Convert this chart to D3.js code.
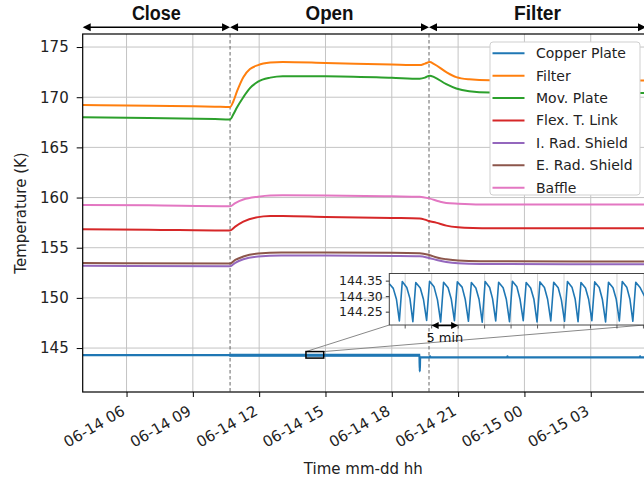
<!DOCTYPE html>
<html>
<head>
<meta charset="utf-8">
<script src="https://cdn.jsdelivr.net/npm/d3@7/dist/d3.min.js"></script>
<style>
  body { margin: 0; background: #fff; }
  svg { display: block; font-family: "DejaVu Sans", sans-serif; }
</style>
</head>
<body>
<svg id="chart" width="644" height="480"></svg>
<script>
const parseTime = d3.timeParse("%m-%d %H:%M");

// phases shown above the plot
const phaseNames = ["Close", "Open", "Filter"];
const phaseBounds = ["06-14 04:01", "06-14 10:41", "06-14 19:41", "06-15 05:30"];

const xTickTimes = ["06-14 06:00", "06-14 09:00", "06-14 12:00", "06-14 15:00",
                    "06-14 18:00", "06-14 21:00", "06-15 00:00", "06-15 03:00"];
const yTicks = [145, 150, 155, 160, 165, 170, 175];

const seriesNames = ["Copper Plate", "Filter", "Mov. Plate", "Flex. T. Link",
                     "I. Rad. Shield", "E. Rad. Shield", "Baffle"];
const seriesColors = ["#1f77b4", "#ff7f0e", "#2ca02c", "#d62728", "#9467bd", "#8c564b", "#e377c2"];

const copperPlate = [
  ["06-14 04:01", 144.30], ["06-14 10:41", 144.30], ["06-14 10:42", 144.29], ["06-14 19:14", 144.29],
  ["06-14 19:15", 144.30], ["06-14 19:16", 142.68], ["06-14 19:17", 144.08], ["06-14 19:43", 144.08],
  ["06-14 19:44", 144.17], ["06-14 19:45", 144.08], ["06-14 23:13", 144.08], ["06-14 23:14", 144.17],
  ["06-14 23:15", 144.08], ["06-15 05:13", 144.08], ["06-15 05:14", 144.17], ["06-15 05:15", 144.08],
  ["06-15 05:30", 144.08]
];
// spread of the copper plate oscillation during the open phase
const copperBand = [["06-14 10:41", 144.22, 144.35], ["06-14 19:15", 144.22, 144.35]];

const filterTemps = [
  ["06-14 04:01", 169.22], ["06-14 06:00", 169.18], ["06-14 08:00", 169.12], ["06-14 10:00", 169.06],
  ["06-14 10:41", 169.03], ["06-14 10:50", 169.6], ["06-14 11:00", 170.6], ["06-14 11:17", 172.0],
  ["06-14 11:35", 172.8], ["06-14 11:57", 173.2], ["06-14 12:30", 173.45], ["06-14 13:04", 173.52],
  ["06-14 15:00", 173.42], ["06-14 18:00", 173.25], ["06-14 19:16", 173.2], ["06-14 19:30", 173.35],
  ["06-14 19:43", 173.5], ["06-14 19:55", 173.3], ["06-14 20:28", 172.5], ["06-14 20:55", 172.0],
  ["06-14 21:30", 171.78], ["06-14 22:26", 171.68], ["06-15 05:30", 171.66]
];
const movPlateTemps = [
  ["06-14 04:01", 168.0], ["06-14 07:00", 167.92], ["06-14 10:00", 167.82], ["06-14 10:41", 167.79],
  ["06-14 10:50", 168.3], ["06-14 11:00", 169.0], ["06-14 11:17", 170.0], ["06-14 11:35", 170.9],
  ["06-14 11:57", 171.55], ["06-14 12:30", 171.95], ["06-14 13:04", 172.1], ["06-14 15:00", 172.1],
  ["06-14 18:00", 171.94], ["06-14 19:16", 171.85], ["06-14 19:30", 171.95], ["06-14 19:43", 172.15],
  ["06-14 19:55", 172.0], ["06-14 20:28", 171.3], ["06-14 20:55", 170.87], ["06-14 21:30", 170.6],
  ["06-14 22:26", 170.47], ["06-15 05:30", 170.42]
];
const flexLinkTemps = [
  ["06-14 04:01", 156.85], ["06-14 07:00", 156.8], ["06-14 10:41", 156.72], ["06-14 10:55", 157.1],
  ["06-14 11:17", 157.6], ["06-14 11:57", 158.05], ["06-14 12:30", 158.15], ["06-14 13:04", 158.17],
  ["06-14 15:00", 158.07], ["06-14 18:00", 157.97], ["06-14 19:16", 157.92], ["06-14 19:30", 157.8],
  ["06-14 19:41", 157.66], ["06-14 20:00", 157.5], ["06-14 20:28", 157.2], ["06-14 21:00", 157.03],
  ["06-14 21:40", 156.96], ["06-14 22:30", 156.94], ["06-15 05:30", 156.94]
];
const innerShieldTemps = [
  ["06-14 04:01", 153.2], ["06-14 10:41", 153.15], ["06-14 10:55", 153.5], ["06-14 11:17", 153.85],
  ["06-14 11:57", 154.12], ["06-14 13:00", 154.22], ["06-14 15:00", 154.22], ["06-14 18:00", 154.18],
  ["06-14 19:16", 154.15], ["06-14 19:41", 153.98], ["06-14 20:05", 153.75], ["06-14 20:28", 153.58],
  ["06-14 21:00", 153.45], ["06-14 22:00", 153.38], ["06-15 05:30", 153.35]
];
const outerShieldTemps = [
  ["06-14 04:01", 153.48], ["06-14 10:41", 153.42], ["06-14 10:55", 153.78], ["06-14 11:17", 154.12],
  ["06-14 11:57", 154.42], ["06-14 13:00", 154.52], ["06-14 15:00", 154.52], ["06-14 18:00", 154.5],
  ["06-14 19:16", 154.45], ["06-14 19:41", 154.28], ["06-14 20:05", 154.0], ["06-14 20:28", 153.85],
  ["06-14 21:00", 153.72], ["06-14 22:00", 153.66], ["06-15 05:30", 153.62]
];
const baffleTemps = [
  ["06-14 04:01", 159.25], ["06-14 07:00", 159.22], ["06-14 10:41", 159.14], ["06-14 10:55", 159.45],
  ["06-14 11:17", 159.8], ["06-14 11:57", 160.08], ["06-14 12:30", 160.2], ["06-14 13:04", 160.22],
  ["06-14 15:00", 160.2], ["06-14 18:00", 160.12], ["06-14 19:16", 160.08], ["06-14 19:41", 159.92],
  ["06-14 20:10", 159.6], ["06-14 20:28", 159.46], ["06-14 21:00", 159.38], ["06-14 22:00", 159.3],
  ["06-15 05:30", 159.3]
];
const allSeries = [copperPlate, filterTemps, movPlateTemps, flexLinkTemps,
                   innerShieldTemps, outerShieldTemps, baffleTemps];

// inset: copper plate, minutes after 06-14 14:07
const insetStart = "06-14 14:07";
const insetMinutes = [
  0, 0.75, 1.35, 1.9, 2.45, 3.3, 3.9, 4.45, 5.0, 5.85, 6.45, 7.05, 7.6, 8.45, 9.1, 9.7,
  10.25, 11.1, 11.7, 12.3, 12.85, 13.75, 14.35, 14.95, 15.5, 16.35, 16.95, 17.55,
  18.1, 18.95, 19.5, 20.1, 20.65, 21.5, 22.1, 22.7, 23.25, 24.1, 24.7, 25.3,
  25.85, 26.7, 27.3, 27.9, 28.45, 29.3, 29.9, 30.5, 31.05, 31.9, 32.5, 33.1,
  33.65, 34.5, 35.1, 35.65, 36.2, 37.05, 37.65, 38.25, 38.8, 39.65, 40.25, 40.85,
  41.4, 42.25, 42.85, 43.45, 44.0, 44.85, 45.45, 46.0, 46.55, 47.4, 48.2
];
const insetTemps = [
  144.34, 144.325, 144.29, 144.22, 144.347, 144.328, 144.292, 144.218, 144.344, 144.326, 144.29, 144.222,
  144.348, 144.33, 144.288, 144.217, 144.345, 144.327, 144.291, 144.221, 144.346, 144.329, 144.289, 144.219,
  144.344, 144.326, 144.29, 144.216, 144.347, 144.328, 144.292, 144.22, 144.345, 144.327, 144.29, 144.218,
  144.348, 144.33, 144.289, 144.221, 144.344, 144.326, 144.291, 144.217, 144.346, 144.328, 144.29, 144.22,
  144.345, 144.327, 144.288, 144.219, 144.347, 144.329, 144.291, 144.218, 144.344, 144.326, 144.29, 144.221,
  144.346, 144.328, 144.289, 144.217, 144.345, 144.327, 144.291, 144.22, 144.347, 144.329, 144.29, 144.219,
  144.345, 144.327, 144.3
];
const insetYTicks = [144.25, 144.30, 144.35];
const zoomBoxTemps = [144.0, 144.65];

const svg = d3.select("#chart");
const margin = {left: 82.7, top: 34, right: 646, bottom: 392};

const x = d3.scaleTime()
    .domain([parseTime(phaseBounds[0]), parseTime(phaseBounds[3])])
    .range([margin.left, margin.right]);
const y = d3.scaleLinear()
    .domain([140.62, 176.3])
    .range([margin.bottom, margin.top]);

// grid
const grid = svg.append("g");
grid.selectAll(".gx").data(xTickTimes).join("line")
    .attr("x1", d => x(parseTime(d))).attr("x2", d => x(parseTime(d)))
    .attr("y1", margin.top).attr("y2", margin.bottom)
    .attr("stroke", "#c4c4c4").attr("stroke-width", 1);
grid.selectAll(".gy").data(yTicks).join("line")
    .attr("x1", margin.left).attr("x2", margin.right)
    .attr("y1", d => y(d)).attr("y2", d => y(d))
    .attr("stroke", "#c4c4c4").attr("stroke-width", 1);

// phase change markers
svg.append("g").selectAll("line").data(phaseBounds.slice(1, 3)).join("line")
    .attr("x1", d => x(parseTime(d))).attr("x2", d => x(parseTime(d)))
    .attr("y1", margin.top).attr("y2", margin.bottom)
    .attr("stroke", "#555").attr("stroke-width", 0.9).attr("stroke-dasharray", "3.5,2.5");

svg.append("clipPath").attr("id", "plot-clip").append("rect")
    .attr("x", margin.left).attr("y", margin.top)
    .attr("width", margin.right - margin.left).attr("height", margin.bottom - margin.top);

const lineGen = d3.line()
    .x(d => x(parseTime(d[0])))
    .y(d => y(d[1]))
    .curve(d3.curveMonotoneX);

const lines = svg.append("g").attr("clip-path", "url(#plot-clip)");

lines.append("path")
    .datum(copperBand)
    .attr("d", d3.area()
        .x(d => x(parseTime(d[0])))
        .y0(d => y(d[1]))
        .y1(d => y(d[2])))
    .attr("fill", seriesColors[0])
    .attr("stroke", seriesColors[0])
    .attr("stroke-width", 1.6);

lines.selectAll(".series").data(allSeries).join("path")
    .attr("d", d => lineGen(d))
    .attr("fill", "none")
    .attr("stroke", (d, i) => seriesColors[i])
    .attr("stroke-width", (d, i) => i === 0 ? 2.2 : 2)
    .attr("stroke-linejoin", "round");

// axes
const xAxis = svg.append("g")
    .attr("transform", `translate(0,${margin.bottom})`)
    .call(d3.axisBottom(x)
        .tickValues(xTickTimes.map(parseTime))
        .tickFormat(d3.timeFormat("%m-%d %H"))
        .tickSize(5)
        .tickSizeOuter(0));
xAxis.select(".domain").remove();
xAxis.selectAll(".tick line").attr("stroke", "#000").attr("stroke-width", 1);
xAxis.selectAll(".tick text")
    .attr("font-size", 15)
    .attr("font-family", "DejaVu Sans")
    .attr("fill", "#222")
    .attr("text-anchor", "end")
    .attr("y", 0).attr("dy", 0)
    .attr("transform", "translate(-1,22) rotate(-30)");

const yAxis = svg.append("g")
    .attr("transform", `translate(${margin.left},0)`)
    .call(d3.axisLeft(y).tickValues(yTicks).tickSize(6).tickPadding(8).tickSizeOuter(0));
yAxis.select(".domain").remove();
yAxis.selectAll(".tick line").attr("stroke", "#000");
yAxis.selectAll(".tick text")
    .attr("font-size", 15)
    .attr("font-family", "DejaVu Sans")
    .attr("fill", "#222");

// frame
svg.append("rect")
    .attr("x", margin.left).attr("y", margin.top)
    .attr("width", margin.right - margin.left).attr("height", margin.bottom - margin.top)
    .attr("fill", "none").attr("stroke", "#000").attr("stroke-width", 1.2);

svg.append("text")
    .attr("x", (margin.left + margin.right) / 2 - 1).attr("y", 474)
    .attr("text-anchor", "middle").attr("font-size", 15).attr("fill", "#222")
    .text("Time mm-dd hh");
svg.append("text")
    .attr("transform", `translate(26,${(margin.top + margin.bottom) / 2}) rotate(-90)`)
    .attr("text-anchor", "middle").attr("font-size", 15).attr("fill", "#222")
    .text("Temperature (K)");

// phase arrows
const arrowY = 27.3;
const phaseLabelWidths = [49, 48, 47];
const phases = svg.append("g");
phaseNames.forEach((name, i) => {
  const x0 = x(parseTime(phaseBounds[i]));
  const x1 = x(parseTime(phaseBounds[i + 1]));
  phases.append("line")
      .attr("x1", x0 + 2).attr("x2", x1 - 2)
      .attr("y1", arrowY).attr("y2", arrowY)
      .attr("stroke", "#000").attr("stroke-width", 1.5);
  phases.append("path")
      .attr("d", `M${x0},${arrowY} l8,-4 l0,8 Z M${x1},${arrowY} l-8,-4 l0,8 Z`)
      .attr("fill", "#000");
  phases.append("text")
      .attr("x", (x0 + x1) / 2).attr("y", 20)
      .attr("text-anchor", "middle")
      .attr("font-family", "'Liberation Sans', Arial, sans-serif")
      .attr("font-weight", "bold").attr("font-size", 20)
      .attr("textLength", phaseLabelWidths[i])
      .attr("lengthAdjust", "spacingAndGlyphs")
      .attr("fill", "#111")
      .text(name);
});

// zoom box and inset
const insetT0 = parseTime(insetStart);
const insetT1 = new Date(+insetT0 + d3.max(insetMinutes) * 60000);
const inset = {left: 389.3, right: 644.5, top: 273.5, bottom: 325};

const boxX0 = x(insetT0), boxX1 = x(insetT1);
const boxY0 = y(zoomBoxTemps[1]), boxY1 = y(zoomBoxTemps[0]);

svg.append("line")
    .attr("x1", boxX0).attr("y1", boxY0).attr("x2", inset.left).attr("y2", inset.bottom)
    .attr("stroke", "#888").attr("stroke-width", 1);
svg.append("line")
    .attr("x1", boxX1).attr("y1", boxY0).attr("x2", inset.right).attr("y2", inset.bottom)
    .attr("stroke", "#888").attr("stroke-width", 1);
svg.append("rect")
    .attr("x", boxX0).attr("y", boxY0)
    .attr("width", boxX1 - boxX0).attr("height", boxY1 - boxY0)
    .attr("fill", "none").attr("stroke", "#000").attr("stroke-width", 1.5);

const ix = d3.scaleTime().domain([insetT0, insetT1]).range([inset.left, inset.right]);
const iy = d3.scaleLinear().domain([144.207, 144.373]).range([inset.bottom, inset.top]);

const insetG = svg.append("g");
insetG.append("rect")
    .attr("x", inset.left).attr("y", inset.top)
    .attr("width", inset.right - inset.left).attr("height", inset.bottom - inset.top)
    .attr("fill", "#fff");
const insetTicks = ix.ticks(d3.timeMinute.every(5));
insetG.selectAll(".ig").data(insetTicks).join("line")
    .attr("x1", d => ix(d)).attr("x2", d => ix(d))
    .attr("y1", inset.top).attr("y2", inset.bottom)
    .attr("stroke", "#d4d4d4").attr("stroke-width", 1);
insetG.selectAll(".it").data(insetTicks).join("line")
    .attr("x1", d => ix(d)).attr("x2", d => ix(d))
    .attr("y1", inset.bottom).attr("y2", inset.bottom + 3.5)
    .attr("stroke", "#333").attr("stroke-width", 0.8);

insetG.append("path")
    .datum(insetMinutes.map((m, i) => [new Date(+insetT0 + m * 60000), insetTemps[i]]))
    .attr("d", d3.line().x(d => ix(d[0])).y(d => iy(d[1])))
    .attr("fill", "none")
    .attr("stroke", seriesColors[0])
    .attr("stroke-width", 1.6)
    .attr("stroke-linejoin", "round");

const iyAxis = insetG.append("g")
    .attr("transform", `translate(${inset.left},0)`)
    .call(d3.axisLeft(iy).tickValues(insetYTicks).tickFormat(d3.format(".2f"))
        .tickSize(3.5).tickPadding(3).tickSizeOuter(0));
iyAxis.select(".domain").remove();
iyAxis.selectAll(".tick line").attr("stroke", "#333");
iyAxis.selectAll(".tick text")
    .attr("font-size", 12.5).attr("font-family", "DejaVu Sans").attr("fill", "#222");

insetG.append("rect")
    .attr("x", inset.left).attr("y", inset.top)
    .attr("width", inset.right - inset.left).attr("height", inset.bottom - inset.top)
    .attr("fill", "none").attr("stroke", "#444").attr("stroke-width", 1);

// 5 min marker
const fiveA = ix(insetTicks[1]), fiveB = ix(insetTicks[2]);
const fiveY = inset.bottom + 0.5;
insetG.append("line")
    .attr("x1", fiveA + 3).attr("x2", fiveB - 3)
    .attr("y1", fiveY).attr("y2", fiveY)
    .attr("stroke", "#000").attr("stroke-width", 1.5);
insetG.append("path")
    .attr("d", `M${fiveA},${fiveY} l7,-3.5 l0,7 Z M${fiveB},${fiveY} l-7,-3.5 l0,7 Z`)
    .attr("fill", "#000");
insetG.append("text")
    .attr("x", (fiveA + fiveB) / 2).attr("y", 342)
    .attr("text-anchor", "middle").attr("font-size", 13).attr("fill", "#111")
    .text("5 min");

// legend
const legend = svg.append("g");
legend.append("rect")
    .attr("x", 490).attr("y", 42).attr("width", 150).attr("height", 153)
    .attr("rx", 3).attr("fill", "#fff").attr("stroke", "#cfcfcf").attr("stroke-width", 1);
const legendRows = legend.selectAll(".row").data(seriesNames).join("g")
    .attr("transform", (d, i) => `translate(0,${53.3 + i * 22.4})`);
legendRows.append("line")
    .attr("x1", 492.5).attr("x2", 524.5)
    .attr("stroke", (d, i) => seriesColors[i]).attr("stroke-width", 2);
legendRows.append("text")
    .attr("x", 536).attr("dy", "0.35em")
    .attr("font-size", 14).attr("fill", "#222")
    .text(d => d);
</script>
</body>
</html>
